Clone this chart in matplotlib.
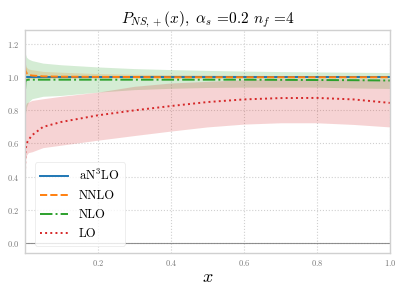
import matplotlib
matplotlib.use("Agg")
import matplotlib.pyplot as plt

plt.rcParams["font.family"] = "serif"
plt.rcParams["font.serif"] = ["cmr10", "DejaVu Serif"]
plt.rcParams["mathtext.fontset"] = "cm"
plt.rcParams["axes.formatter.use_mathtext"] = True

# x grid of read-off points
X = [0.001, 0.002, 0.005, 0.01, 0.02, 0.05, 0.1, 0.2, 0.3, 0.4, 0.5,
     0.6, 0.7, 0.8, 0.9, 1.0]

# aN3LO (reference, ~1)
AN3LO = [1.0] * 16
AN3LO_LO = [0.995] * 16
AN3LO_HI = [1.005] * 16

# NNLO
NNLO = [1.06, 1.04, 1.025, 1.015, 1.01, 1.005, 1.003, 1.002, 1.001, 1.0,
        1.0, 1.0, 1.0, 1.0, 1.0, 1.0]
NNLO_LO = [0.98, 0.985, 0.99, 0.99, 0.992, 0.993, 0.994, 0.995, 0.995,
           0.995, 0.995, 0.995, 0.995, 0.995, 0.995, 0.995]
NNLO_HI = [1.10, 1.08, 1.06, 1.05, 1.045, 1.035, 1.03, 1.022, 1.018,
           1.015, 1.013, 1.011, 1.01, 1.01, 1.01, 1.01]

# NLO
NLO = [0.93, 0.975, 0.983, 0.985, 0.985, 0.985, 0.985, 0.985, 0.985, 0.985,
       0.985, 0.985, 0.984, 0.983, 0.982, 0.98]
NLO_LO = [0.73, 0.78, 0.82, 0.85, 0.87, 0.885, 0.89, 0.91, 0.925, 0.933,
          0.938, 0.94, 0.94, 0.94, 0.935, 0.932]
NLO_HI = [1.15, 1.14, 1.12, 1.11, 1.10, 1.085, 1.075, 1.062, 1.052, 1.046,
          1.041, 1.037, 1.034, 1.032, 1.03, 1.028]

# LO
X_LO_LINE = [0.0003, 0.0006] + X
LO = [0.2, 0.35, 0.45, 0.55, 0.60, 0.62, 0.65, 0.70, 0.73, 0.77, 0.80,
      0.826, 0.85, 0.866, 0.874, 0.875, 0.866, 0.845]
LO_LO = [0.46, 0.50, 0.53, 0.545, 0.55, 0.575, 0.59, 0.62, 0.648, 0.675,
         0.70, 0.717, 0.725, 0.725, 0.715, 0.70]
LO_HI = [0.80, 0.83, 0.845, 0.85, 0.86, 0.87, 0.885, 0.91, 0.945, 0.965,
         0.975, 0.985, 0.99, 0.99, 0.99, 0.99]

fig = plt.figure(figsize=(4.07, 2.91), dpi=100)
ax = fig.add_axes([0.061, 0.131, 0.897, 0.766])

ax.fill_between(X, AN3LO_LO, AN3LO_HI, color="#1f77b4", alpha=0.2, lw=0)
ax.fill_between(X, NNLO_LO, NNLO_HI, color="#ff7f0e", alpha=0.2, lw=0)
ax.fill_between(X, NLO_LO, NLO_HI, color="#2ca02c", alpha=0.2, lw=0)
ax.fill_between(X, LO_LO, LO_HI, color="#d62728", alpha=0.2, lw=0)

ax.plot(X, AN3LO, color="#1f77b4", lw=1.4, ls="-", label=r"aN$^3$LO")
ax.plot(X, NNLO, color="#ff7f0e", lw=1.4, ls="--", label="NNLO")
ax.plot(X, NLO, color="#2ca02c", lw=1.4, ls="-.", label="NLO")
ax.plot(X_LO_LINE, LO, color="#d62728", lw=1.4, ls=":", label="LO")

ax.axhline(0, color="#777777", lw=0.8, alpha=0.8)

ax.set_xlim(0.0003, 1.0)
ax.set_ylim(-0.06, 1.285)
ax.set_xticks([0.2, 0.4, 0.6, 0.8, 1.0])
ax.set_yticks([0.0, 0.2, 0.4, 0.6, 0.8, 1.0, 1.2])
ax.tick_params(length=0, labelsize=6, labelcolor="#777777", pad=4)
ax.grid(True, ls=":", color="#d0d0d0", lw=0.8)
ax.set_axisbelow(True)
for s in ax.spines.values():
    s.set_color("#d0d0d0")
    s.set_linewidth(1.0)

ax.set_xlabel(r"$x$", fontsize=13, labelpad=1)
ax.set_title(r"$P_{NS,+}(x),\ \alpha_s$ =0.2 $n_f$ =4", fontsize=11, pad=5)
leg = ax.legend(loc="lower left", fontsize=9, handlelength=2.2,
                frameon=True, borderpad=0.45, labelspacing=0.55,
                handletextpad=0.9, bbox_to_anchor=(0.01, 0.005))
leg.get_frame().set_edgecolor("#e6e6e6")
leg.get_frame().set_linewidth(0.6)

fig.savefig("out.png", dpi=100)
